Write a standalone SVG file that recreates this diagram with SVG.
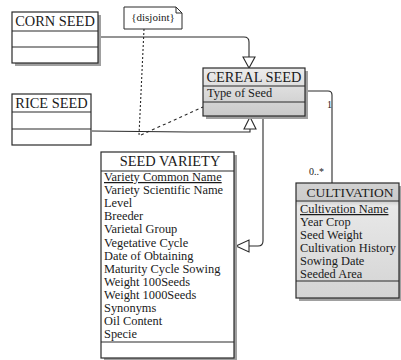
<svg xmlns="http://www.w3.org/2000/svg" width="401" height="360" viewBox="0 0 401 360">
<defs>
<linearGradient id="g" x1="0" y1="0" x2="0" y2="1">
<stop offset="0" stop-color="#ececec"/>
<stop offset="1" stop-color="#c9c9c9"/>
</linearGradient>
<linearGradient id="g2" x1="0" y1="0" x2="0" y2="1">
<stop offset="0" stop-color="#d2d2d2"/>
<stop offset="0.15" stop-color="#cbcbcb"/>
<stop offset="0.2" stop-color="#e8e8e8"/>
<stop offset="1" stop-color="#d4d4d4"/>
</linearGradient>
</defs>
<style>
.box{stroke:#2a2a2a;stroke-width:1.2}
.sh{fill:#a0a0a0}
.ln{stroke:#2a2a2a;stroke-width:1.1;fill:none}
.t{font-family:"Liberation Serif",serif;fill:#1a1a1a}
.title{font-size:14.4px;text-anchor:middle}
.attr{font-size:12.4px}
.tri{fill:#fff;stroke:#2a2a2a;stroke-width:1.1}
</style>
<rect width="401" height="360" fill="#fff"/>

<g id="connectors">
<path class="ln" d="M100,37 H244 Q249,37 249,42 V57"/>
<polygon class="tri" points="249,68 243,57 255,57"/>
<polyline class="ln" points="92,131 188,132 250,132 250,129"/>
<polygon class="tri" points="250,117 244,129 256,129"/>
<path class="ln" d="M249,246 H258 Q263,246 263,241 V116"/>
<polygon class="tri" points="236,246 249,240 249,252"/>
<path class="ln" d="M305,91 H328 Q332,91 332,95 V183"/>
<text class="t" x="327" y="108" font-size="10">1</text>
<text class="t" x="309" y="175" font-size="10">0..*</text>
<path class="ln" d="M144,29 L139,135" stroke-dasharray="2,2"/>
<path class="ln" d="M141,135 L203,107" stroke-dasharray="3,3"/>
</g>

<g id="disjoint">
<path d="M124,7 H176 L182,13 V29 H124 Z" fill="#fff" stroke="#2a2a2a" stroke-width="1"/>
<path d="M176,7 V13 H182" fill="none" stroke="#2a2a2a" stroke-width="1"/>
<text class="t" x="153" y="21" font-size="11" text-anchor="middle">{disjoint}</text>
</g>

<g id="corn-seed">
<rect class="sh" x="15" y="15" width="86" height="51"/>
<rect class="box" x="12" y="12" width="86" height="51" fill="#fff"/>
<line class="box" x1="12" y1="31" x2="98" y2="31"/>
<line class="box" x1="12" y1="47" x2="98" y2="47"/>
<text class="t title" x="55" y="26">CORN SEED</text>
</g>

<g id="rice-seed">
<rect class="box" x="12" y="94" width="79" height="51" fill="#fff"/>
<line class="box" x1="12" y1="112" x2="91" y2="112"/>
<line class="box" x1="12" y1="129" x2="91" y2="129"/>
<text class="t title" x="51.5" y="108">RICE SEED</text>
</g>

<g id="cereal-seed">
<rect class="sh" x="206" y="71" width="102" height="48"/>
<rect class="box" x="203" y="68" width="102" height="48" fill="url(#g)"/>
<line class="box" x1="203" y1="86" x2="305" y2="86"/>
<line class="box" x1="203" y1="102" x2="305" y2="102"/>
<text class="t title" x="254" y="82">CEREAL SEED</text>
<text class="t attr" x="207" y="97">Type of Seed</text>
</g>

<g id="seed-variety">
<rect class="sh" x="104" y="155" width="133" height="206"/>
<rect class="box" x="101" y="152" width="133" height="206" fill="#fff"/>
<line class="box" x1="101" y1="171" x2="234" y2="171"/>
<line class="box" x1="101" y1="342" x2="234" y2="342"/>
<text class="t title" x="170" y="166">SEED VARIETY</text>
<text class="t attr" x="104" y="181" text-decoration="underline">Variety Common Name</text>
<text class="t attr" x="104" y="194.1">Variety Scientific Name</text>
<text class="t attr" x="104" y="207.2">Level</text>
<text class="t attr" x="104" y="220.3">Breeder</text>
<text class="t attr" x="104" y="233.4">Varietal Group</text>
<text class="t attr" x="104" y="246.5">Vegetative Cycle</text>
<text class="t attr" x="104" y="259.6">Date of Obtaining</text>
<text class="t attr" x="104" y="272.7">Maturity Cycle Sowing</text>
<text class="t attr" x="104" y="285.8">Weight 100Seeds</text>
<text class="t attr" x="104" y="298.9">Weight 1000Seeds</text>
<text class="t attr" x="104" y="312">Synonyms</text>
<text class="t attr" x="104" y="325.1">Oil Content</text>
<text class="t attr" x="104" y="338.2">Specie</text>
</g>

<g id="cultivation">
<rect class="sh" x="299" y="186" width="103" height="115"/>
<rect class="box" x="296" y="183" width="103" height="115" fill="url(#g2)"/>
<line class="box" x1="296" y1="201" x2="399" y2="201"/>
<line class="box" x1="296" y1="281" x2="399" y2="281"/>
<text class="t" x="350" y="197" font-size="13.5" text-anchor="middle">CULTIVATION</text>
<text class="t attr" x="300" y="213" text-decoration="underline">Cultivation Name</text>
<text class="t attr" x="300" y="226">Year Crop</text>
<text class="t attr" x="300" y="239">Seed Weight</text>
<text class="t attr" x="300" y="252">Cultivation History</text>
<text class="t attr" x="300" y="265">Sowing Date</text>
<text class="t attr" x="300" y="278">Seeded Area</text>
</g>
</svg>
